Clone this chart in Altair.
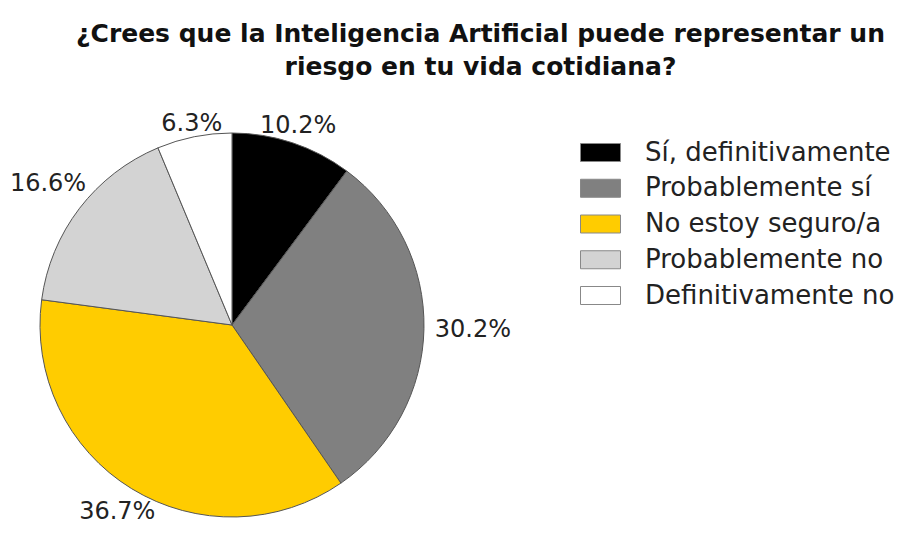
import altair as alt
import pandas as pd

categories = ["Sí, definitivamente", "Probablemente sí", "No estoy seguro/a",
              "Probablemente no", "Definitivamente no"]
values = [10.2, 30.2, 36.7, 16.6, 6.3]
labels = ["10.2%", "30.2%", "36.7%", "16.6%", "6.3%"]
colors = ["#000000", "#808080", "#FFCC00", "#D3D3D3", "#FFFFFF"]

df = pd.DataFrame({
    "cat": categories,
    "value": values,
    "label": labels,
    "order": list(range(len(categories))),
})

FONT = "DejaVu Sans"
CX, CY = 224, 227  # pie centre inside the view
R = 192
theta_scale = alt.Scale(domain=[0, 100])

pie = alt.Chart(df).mark_arc(stroke="#555555", strokeWidth=1).encode(
    theta=alt.Theta("value:Q", stack=True, scale=theta_scale),
    order=alt.Order("order:Q"),
    color=alt.Color(
        "cat:N",
        scale=alt.Scale(domain=categories, range=colors),
        sort=categories,
        legend=alt.Legend(
            title=None,
            orient="none",
            legendX=572,
            legendY=34,
            symbolType="M-1,-0.45L1,-0.45L1,0.45L-1,0.45Z",
            symbolSize=1600,
            symbolStrokeColor="#888888",
            symbolStrokeWidth=1,
            labelFont=FONT,
            labelFontSize=26,
            labelColor="#222222",
            labelOffset=24,
            rowPadding=1.75,
            labelLimit=400,
        ),
    ),
    x=alt.value(CX),
    y=alt.value(CY),
    radius=alt.value(R),
)

text = alt.Chart(df).transform_window(
    cum="sum(value)", sort=[alt.SortField("order")]
).transform_calculate(
    midp="datum.cum - datum.value/2",
).transform_calculate(
    rad="196 + 45 * abs(sin(datum.midp / 100 * 2 * PI))",
).mark_text(font=FONT, fontSize=24, color="#222222").encode(
    theta=alt.Theta("midp:Q", stack=None, scale=theta_scale),
    text="label:N",
    radius=alt.Radius("rad:Q", scale=None),
    x=alt.value(CX),
    y=alt.value(CY),
)

chart = alt.layer(pie, text).properties(
    width=895,
    height=427,
    padding={"top": 90, "left": 0, "right": 0, "bottom": 0},
    autosize=alt.AutoSizeParams(type="none"),
    title=alt.Title(
        ["¿Crees que la Inteligencia Artificial puede representar un",
         "riesgo en tu vida cotidiana?"],
        font=FONT,
        fontSize=25,
        fontWeight="bold",
        color="#111111",
        anchor="middle",
        dx=25,
        offset=18,
        lineHeight=33,
    ),
).configure_view(stroke=None)

chart.save("out.html", embed_options={"renderer": "svg", "actions": False})
